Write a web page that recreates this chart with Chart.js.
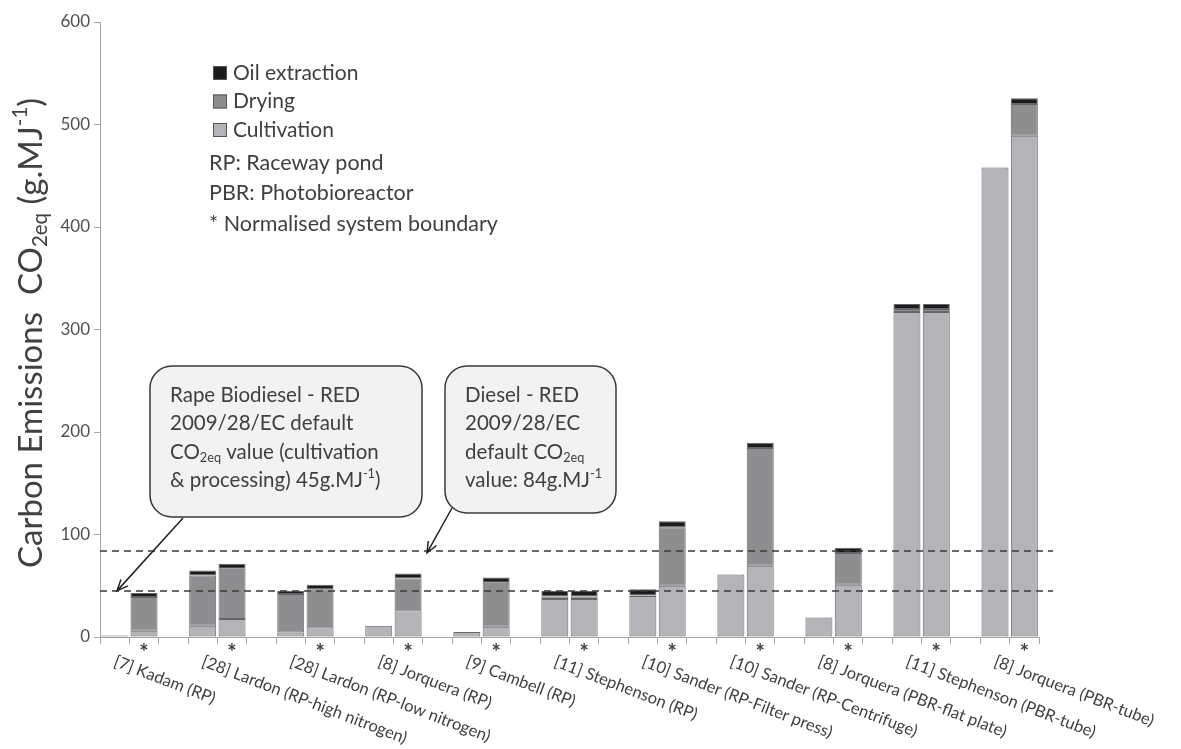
<!DOCTYPE html>
<html>
<head>
<meta charset="utf-8">
<script src="https://cdn.jsdelivr.net/npm/chart.js@4.4.1/dist/chart.umd.min.js"></script>
<style>
    body { margin: 0; background: #fff; }
    #wrap { width: 1181px; height: 749px; }
</style>
</head>
<body>
<div id="wrap"><canvas id="co2Chart" width="1181" height="749"></canvas></div>
<script>
const studies = [
    '[7] Kadam (RP)', '[28] Lardon (RP-high nitrogen)', '[28] Lardon (RP-low nitrogen)',
    '[8] Jorquera (RP)', '[9] Cambell (RP)', '[11] Stephenson (RP)',
    '[10] Sander (RP-Filter press)', '[10] Sander (RP-Centrifuge)',
    '[8] Jorquera (PBR-flat plate)', '[11] Stephenson (PBR-tube)', '[8] Jorquera (PBR-tube)'
];

// as reported
const cultivationOrig = [1.5, 11, 4.5, 11, 5, 37, 40, 61, 19, 317, 458];
const dryingOrig      = [null, 49, 37.5, null, null, 2.5, 0.5, null, null, 3, null];
const oilOrig         = [null, 5, 3, null, null, 5.5, 6, null, null, 5, null];

// normalised system boundary (*)
const cultivationNorm = [6, 17.5, 9.5, 26, 10, 37, 50, 69.5, 51, 317, 489];
const dryingNorm      = [33, 49, 37, 31, 43, 2.5, 57, 115, 31, 3, 31];
const oilNorm         = [4, 5, 4.5, 5, 5, 5.5, 6, 5, 5, 5, 5.5];

const yTicks = [0, 100, 200, 300, 400, 500, 600];
const refLines = [45, 84];   // rape biodiesel, diesel

const FONT = "Lato, 'Open Sans', sans-serif";
const TEXT = '#404040';

// each study takes three slots: reported bar, normalised bar, gap
const slotLabels = [];
function slots(orig, norm) {
    const out = [];
    studies.forEach(function (s, i) {
        out.push(orig[i], norm[i]);
        if (i < studies.length - 1) out.push(null);
    });
    return out;
}
studies.forEach(function (s, i) {
    slotLabels.push(s, '*');
    if (i < studies.length - 1) slotLabels.push('');
});

function rich(ctx, x, y, parts, size) {
    let cx = x;
    parts.forEach(function (p) {
        const t = p[0], kind = p[1] || 'n';
        let fs = size, dy = 0;
        if (kind === 'sub') { fs = size * 0.62; dy = size * 0.28; }
        if (kind === 'sup') { fs = size * 0.62; dy = -size * 0.33; }
        ctx.font = fs + 'px ' + FONT;
        ctx.fillText(t, cx, y + dy);
        cx += ctx.measureText(t).width;
    });
    return cx - x;
}
function richWidth(ctx, parts, size) {
    let w = 0;
    parts.forEach(function (p) {
        const fs = (p[1] && p[1] !== 'n') ? size * 0.62 : size;
        ctx.font = fs + 'px ' + FONT;
        w += ctx.measureText(p[0]).width;
    });
    return w;
}

function roundBox(ctx, x, y, w, h, r) {
    ctx.beginPath();
    ctx.moveTo(x + r, y);
    ctx.arcTo(x + w, y, x + w, y + h, r);
    ctx.arcTo(x + w, y + h, x, y + h, r);
    ctx.arcTo(x, y + h, x, y, r);
    ctx.arcTo(x, y, x + w, y, r);
    ctx.closePath();
    ctx.fillStyle = '#f2f2f2';
    ctx.fill();
    ctx.strokeStyle = '#3a3a3a';
    ctx.lineWidth = 1.5;
    ctx.stroke();
}

function arrow(ctx, x1, y1, x2, y2) {
    ctx.strokeStyle = '#222';
    ctx.lineWidth = 1.5;
    ctx.beginPath();
    ctx.moveTo(x1, y1);
    ctx.lineTo(x2, y2);
    const a = Math.atan2(y2 - y1, x2 - x1);
    ctx.moveTo(x2 - 12 * Math.cos(a - 0.4), y2 - 12 * Math.sin(a - 0.4));
    ctx.lineTo(x2, y2);
    ctx.lineTo(x2 - 12 * Math.cos(a + 0.4), y2 - 12 * Math.sin(a + 0.4));
    ctx.stroke();
}

const decorPlugin = {
    id: 'decor',
    afterDatasetsDraw: function (chart) {
        const ctx = chart.ctx;
        const xs = chart.scales.x, ys = chart.scales.y;
        const area = chart.chartArea;
        ctx.save();

        // reference lines
        ctx.setLineDash([7, 5]);
        ctx.strokeStyle = '#3a3a3a';
        ctx.lineWidth = 1.5;
        refLines.forEach(function (v) {
            const y = ys.getPixelForValue(v);
            ctx.beginPath();
            ctx.moveTo(area.left, y);
            ctx.lineTo(area.right + 14, y);
            ctx.stroke();
        });
        ctx.setLineDash([]);

        // category labels
        ctx.fillStyle = TEXT;
        slotLabels.forEach(function (lab, i) {
            if (!lab) return;
            const x = xs.getPixelForValue(i);
            if (lab === '*') {
                ctx.font = 'bold 22px ' + FONT;
                ctx.textAlign = 'center';
                ctx.textBaseline = 'middle';
                ctx.fillText('*', x, 653);
            } else {
                ctx.save();
                ctx.translate(x + 3, 653);
                ctx.rotate(21 * Math.PI / 180);
                ctx.font = '16.5px ' + FONT;
                ctx.textAlign = 'left';
                ctx.textBaseline = 'top';
                ctx.fillText(lab, 0, 0);
                ctx.restore();
            }
        });

        // callouts
        arrow(ctx, 183, 518, 117, ys.getPixelForValue(refLines[0]));
        arrow(ctx, 452, 508, 427, ys.getPixelForValue(refLines[1]) + 2);
        roundBox(ctx, 150, 366, 272, 151, 22);
        roundBox(ctx, 445, 366, 171, 147, 22);

        ctx.fillStyle = TEXT;
        ctx.textAlign = 'left';
        ctx.textBaseline = 'middle';
        const fs = 20.5;
        const box1 = [
            [['Rape Biodiesel - RED']],
            [['2009/28/EC default']],
            [['CO'], ['2eq', 'sub'], [' value (cultivation']],
            [['& processing) 45g.MJ'], ['-1', 'sup'], [')']]
        ];
        const box2 = [
            [['Diesel - RED']],
            [['2009/28/EC']],
            [['default CO'], ['2eq', 'sub']],
            [['value: 84g.MJ'], ['-1', 'sup']]
        ];
        box1.forEach(function (ln, i) { rich(ctx, 170, 395 + i * 28.5, ln, fs); });
        box2.forEach(function (ln, i) { rich(ctx, 465, 395 + i * 28.5, ln, fs); });

        // legend
        const legendItems = [
            ['Oil extraction', '#1c1c1c'],
            ['Drying', '#8e8e91'],
            ['Cultivation', '#b4b4b8']
        ];
        legendItems.forEach(function (it, i) {
            const y = 73 + i * 28.5;
            ctx.fillStyle = it[1];
            ctx.fillRect(213, y - 7, 14, 14);
            ctx.strokeStyle = '#555';
            ctx.lineWidth = 1;
            ctx.strokeRect(213.5, y - 6.5, 13, 13);
            ctx.fillStyle = TEXT;
            ctx.font = '21px ' + FONT;
            ctx.fillText(it[0], 233, y);
        });
        ['RP: Raceway pond', 'PBR: Photobioreactor', '* Normalised system boundary'].forEach(function (t, i) {
            ctx.font = '21.5px ' + FONT;
            ctx.fillText(t, 209, 163 + i * 30.5);
        });

        // y title
        ctx.save();
        ctx.translate(31, 333);
        ctx.rotate(-Math.PI / 2);
        const title = [['Carbon Emissions  CO'], ['2eq', 'sub'], [' (g.MJ'], ['-1', 'sup'], [')']];
        const tw = richWidth(ctx, title, 33);
        rich(ctx, -tw / 2, 0, title, 33);
        ctx.restore();

        ctx.restore();
    }
};

const barStyle = { borderColor: '#66666a', borderWidth: 1, borderSkipped: false, barPercentage: 0.92, categoryPercentage: 1 };

new Chart(document.getElementById('co2Chart'), {
    type: 'bar',
    data: {
        labels: slotLabels,
        datasets: [
            Object.assign({ label: 'Cultivation', data: slots(cultivationOrig, cultivationNorm), backgroundColor: '#b4b4b8' }, barStyle),
            Object.assign({ label: 'Drying', data: slots(dryingOrig, dryingNorm), backgroundColor: '#8e8e91' }, barStyle),
            Object.assign({ label: 'Oil extraction', data: slots(oilOrig, oilNorm), backgroundColor: '#1c1c1c' }, barStyle)
        ]
    },
    options: {
        responsive: false,
        animation: false,
        layout: { padding: { top: 22, right: 142, left: 0, bottom: 0 } },
        plugins: { legend: { display: false }, tooltip: { enabled: false } },
        scales: {
            x: {
                stacked: true,
                grid: { display: true, drawOnChartArea: false, drawTicks: true, tickLength: 7, color: '#a6a6a6', offset: true },
                border: { color: '#a6a6a6' },
                ticks: { display: false },
                afterFit: function (s) { s.height = 112; }
            },
            y: {
                stacked: true,
                min: 0, max: 600,
                afterBuildTicks: function (s) { s.ticks = yTicks.map(function (v) { return { value: v }; }); },
                grid: { drawOnChartArea: false, drawTicks: true, tickLength: 6, color: '#a6a6a6' },
                border: { color: '#a6a6a6' },
                ticks: { font: { family: FONT, size: 17 }, color: '#505050', padding: 4 },
                afterFit: function (s) { s.width = 100; }
            }
        }
    },
    plugins: [decorPlugin]
});
</script>
</body>
</html>
